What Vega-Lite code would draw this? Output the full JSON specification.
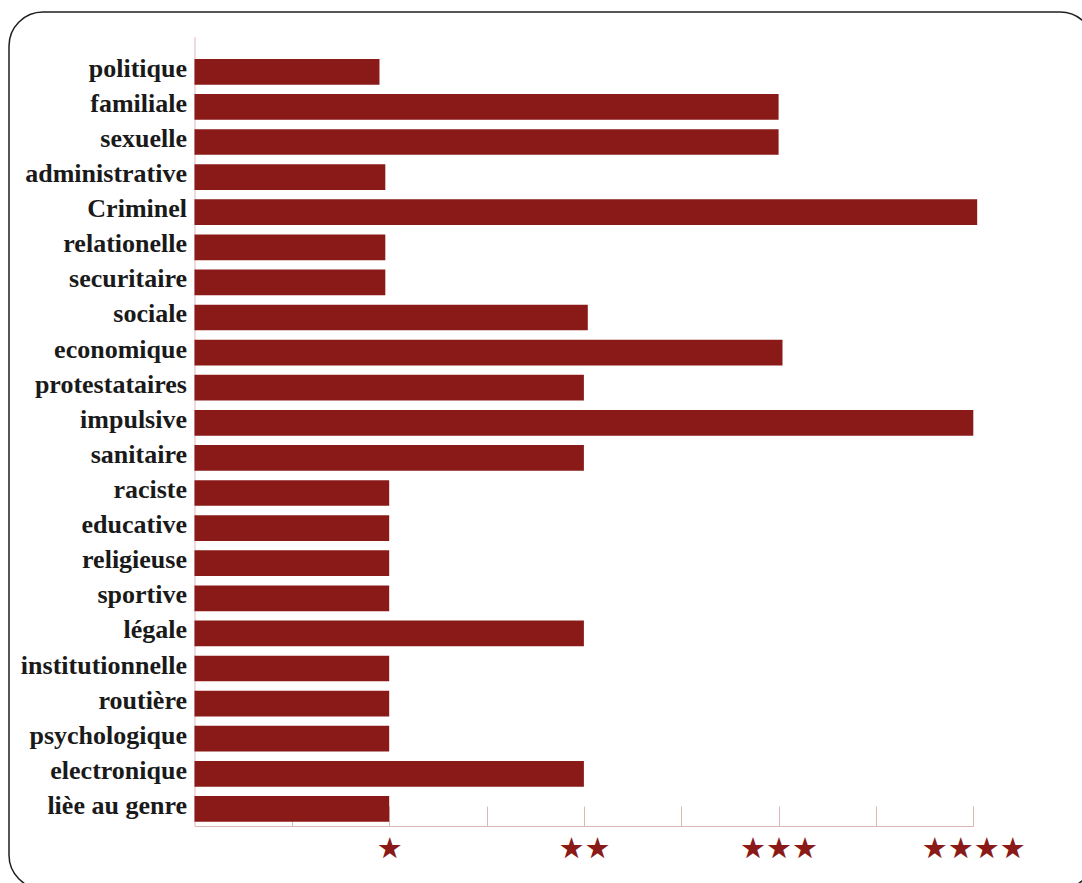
{
  "$schema": "https://vega.github.io/schema/vega-lite/v6.json",
  "autosize": "none",
  "padding": {"left": 9, "top": 12, "right": 0, "bottom": 0},
  "width": 1085,
  "height": 877,
  "background": "white",
  "config": {
    "view": {"stroke": "#1f1f1f", "strokeWidth": 1.5, "cornerRadius": 34}
  },
  "data": {
    "values": [
      {"type": "politique", "level": 0.95},
      {"type": "familiale", "level": 3},
      {"type": "sexuelle", "level": 3},
      {"type": "administrative", "level": 0.98},
      {"type": "Criminel", "level": 4.02},
      {"type": "relationelle", "level": 0.98},
      {"type": "securitaire", "level": 0.98},
      {"type": "sociale", "level": 2.02},
      {"type": "economique", "level": 3.02},
      {"type": "protestataires", "level": 2},
      {"type": "impulsive", "level": 4},
      {"type": "sanitaire", "level": 2},
      {"type": "raciste", "level": 1},
      {"type": "educative", "level": 1},
      {"type": "religieuse", "level": 1},
      {"type": "sportive", "level": 1},
      {"type": "légale", "level": 2},
      {"type": "institutionnelle", "level": 1},
      {"type": "routière", "level": 1},
      {"type": "psychologique", "level": 1},
      {"type": "electronique", "level": 2},
      {"type": "lièe au genre", "level": 1}
    ]
  },
  "mark": {"type": "bar", "color": "#8a1a17"},
  "encoding": {
    "y": {
      "field": "type",
      "type": "nominal",
      "sort": null,
      "scale": {"range": [24.7, 814], "paddingInner": 0.268, "paddingOuter": 0.377, "align": 0.84},
      "axis": {
        "title": null,
        "orient": "left",
        "offset": -185.5,
        "domain": true,
        "domainColor": "#dfb6b6",
        "domainWidth": 1,
        "ticks": false,
        "grid": false,
        "labelFont": "Liberation Serif",
        "labelFontWeight": "bold",
        "labelFontSize": 26,
        "labelColor": "#1a1a1a",
        "labelPadding": 8,
        "labelBaseline": "alphabetic",
        "labelOffset": 5,
        "labelLimit": 0
      }
    },
    "x": {
      "field": "level",
      "type": "quantitative",
      "scale": {"domain": [0, 4], "range": [185.5, 964.3], "nice": false, "zero": true},
      "axis": {
        "title": null,
        "orient": "bottom",
        "offset": -63,
        "values": [0.5, 1, 1.5, 2, 2.5, 3, 3.5, 4],
        "grid": false,
        "domain": true,
        "domainColor": "#dfb6b6",
        "domainWidth": 1,
        "tickColor": "#dfb6b6",
        "tickSize": -20,
        "tickWidth": 1,
        "labelExpr": "datum.value == 1 ? '★' : datum.value == 2 ? '★★' : datum.value == 3 ? '★★★' : datum.value == 4 ? '★★★★' : ''",
        "labelFont": "DejaVu Sans",
        "labelFontSize": 29,
        "labelColor": "#8a1a17",
        "labelPadding": 42,
        "labelBaseline": "middle",
        "labelFlush": false,
        "labelOverlap": false
      }
    }
  }
}
